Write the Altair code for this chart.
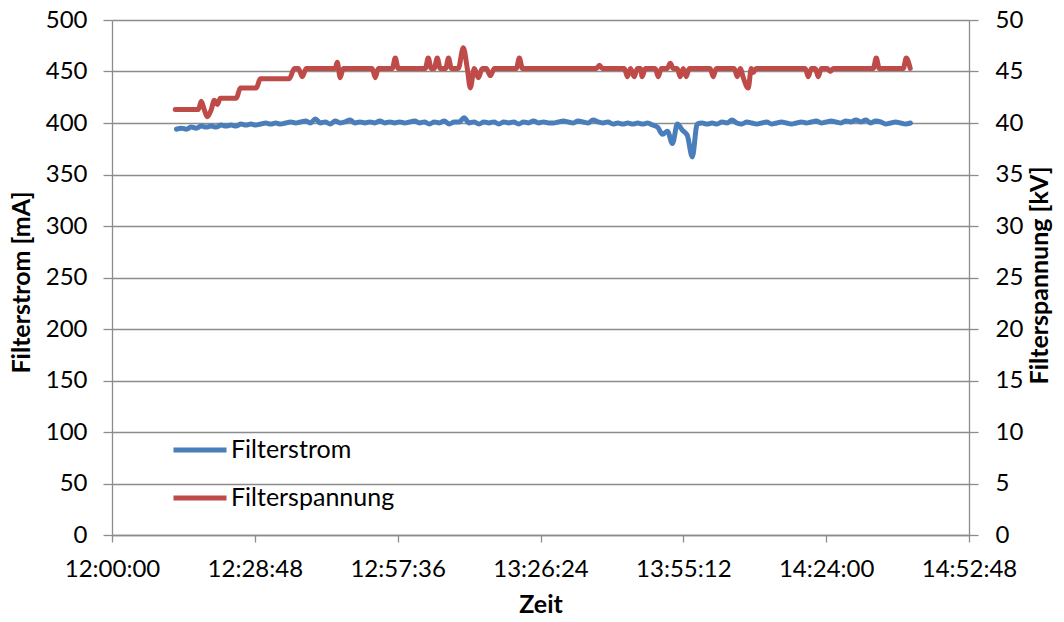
import altair as alt
import pandas as pd

# ---------------- data ----------------
series_names = ["Filterstrom", "Filterspannung"]
series_colors = ["#4a7ebb", "#be4b48"]

# Filterstrom [mA], one sample per minute starting 12:13:00
curr_start = "12:13:00"
curr_step_s = 60
curr_ma = [
    394, 395, 394, 396, 395, 397, 396,
    397, 396, 398, 397, 398, 397, 399, 398, 399, 398,
    399, 400, 399, 400, 399, 400, 401, 400, 401, 402,
    400, 404, 400, 401, 399, 402, 400, 401, 403, 400,
    401, 400, 401, 400, 402, 400, 401, 400, 401, 400,
    401, 402, 400, 401, 399, 401, 400, 402, 399, 401,
    401, 405, 400, 401, 399, 401, 400, 401, 399, 401,
    400, 401, 399, 401, 400, 402, 400, 401, 400, 400,
    401, 402, 401, 400, 402, 401, 400, 403, 401, 400,
    401, 399, 400, 399, 400, 399, 400, 399, 400, 398,
    396, 389, 392, 380, 399, 393, 388, 367, 399,
    400, 399, 400, 399, 401, 400, 403, 400, 399, 401, 400,
    399, 400, 401, 399, 400, 401, 400, 399, 400, 401,
    400, 401, 402, 400, 401, 402, 401, 400, 402, 401,
    403, 401, 403, 400, 402, 401, 399, 400, 401, 400, 399, 400,
]

# Filterspannung [kV], points where the level changes
volt_time = [
    "12:12:45", "12:17:24", "12:18:00", "12:18:36", "12:19:13", "12:20:01",
    "12:20:37", "12:21:14", "12:21:50", "12:25:04", "12:25:52", "12:29:06",
    "12:29:54", "12:35:46", "12:36:46", "12:37:34", "12:38:22", "12:39:10",
    "12:45:00", "12:45:25", "12:46:01", "12:46:37", "12:52:28", "12:53:05",
    "12:53:41", "12:56:31", "12:57:07", "12:57:43", "13:03:10", "13:03:46",
    "13:04:22", "13:04:58", "13:05:35", "13:06:11", "13:07:16", "13:07:52",
    "13:08:25", "13:09:49", "13:10:50", "13:11:38", "13:12:15", "13:13:03",
    "13:13:52", "13:14:40", "13:15:29", "13:16:17", "13:17:06", "13:21:32",
    "13:22:08", "13:22:45", "13:37:40", "13:38:17", "13:38:53", "13:43:19",
    "13:43:56", "13:44:32", "13:45:18", "13:45:55", "13:46:31", "13:46:55",
    "13:47:31", "13:49:32", "13:50:09", "13:50:45", "13:51:57", "13:52:34",
    "13:53:10", "13:53:58", "13:54:35", "13:55:11", "13:55:47", "13:56:23",
    "14:00:37", "14:01:13", "14:01:50", "14:05:28", "14:06:04", "14:06:40",
    "14:07:17", "14:08:17", "14:08:54", "14:09:18", "14:09:54", "14:19:47",
    "14:20:24", "14:21:00", "14:21:48", "14:22:25", "14:23:01", "14:24:14",
    "14:24:50", "14:25:26", "14:33:30", "14:34:06", "14:34:42", "14:39:33",
    "14:40:09", "14:40:57",
]
volt_kv = [
    41.3, 41.3, 42.1, 41.3, 40.6, 41.3,
    42.2, 41.8, 42.4, 42.4, 43.4, 43.4,
    44.3, 44.3, 45.3, 45.3, 44.5, 45.3,
    45.3, 45.9, 44.4, 45.3, 45.3, 44.4,
    45.3, 45.3, 46.3, 45.3, 45.3, 46.3,
    45.3, 45.3, 46.3, 45.3, 45.3, 46.3,
    45.3, 45.3, 47.3, 45.3, 43.4, 45.3,
    44.4, 45.3, 45.3, 44.6, 45.3, 45.3,
    46.3, 45.3, 45.3, 45.6, 45.3, 45.3,
    44.5, 45.3, 44.5, 45.3, 45.3, 44.5,
    45.3, 45.3, 44.5, 45.3, 45.3, 45.8,
    45.3, 45.3, 44.5, 45.3, 44.5, 45.3,
    45.3, 44.5, 45.3, 45.3, 44.5, 45.3,
    44.4, 43.4, 45.3, 44.9, 45.3, 45.3,
    44.5, 45.3, 45.3, 44.5, 45.3, 45.3,
    45.0, 45.3, 45.3, 46.3, 45.3, 45.3,
    46.3, 45.3,
]

x_tick_labels = ["12:00:00", "12:28:48", "12:57:36", "13:26:24",
                 "13:55:12", "14:24:00", "14:52:48"]
ma_ticks = [0, 50, 100, 150, 200, 250, 300, 350, 400, 450, 500]
kv_ticks = [0, 5, 10, 15, 20, 25, 30, 35, 40, 45, 50]


def secs(s):
    h, m, sec = (int(p) for p in s.split(":"))
    return (h - 12) * 3600 + m * 60 + sec


t0 = secs(curr_start)
df_c = pd.DataFrame({
    "t": [t0 + i * curr_step_s for i in range(len(curr_ma))],
    "v": curr_ma,
    "series": series_names[0],
})
df_v = pd.DataFrame({
    "t": [secs(s) for s in volt_time],
    "v": volt_kv,
    "series": series_names[1],
})
x_ticks = [secs(s) for s in x_tick_labels]

FONT = "Lato"
GRID = "#8c8c8c"

x_enc = alt.X(
    "t:Q",
    scale=alt.Scale(domain=[x_ticks[0], x_ticks[-1]], nice=False, zero=False),
    axis=alt.Axis(
        values=x_ticks,
        labelExpr="timeFormat(datetime(2000, 0, 1, 12, 0, datum.value), '%H:%M:%S')",
        labelFlush=False, labelOverlap=False,
        title="Zeit", grid=False, tickSize=7, labelPadding=15,
        titleY=77, titleBaseline="alphabetic",
    ),
)

color_enc = alt.Color(
    "series:N",
    scale=alt.Scale(domain=series_names, range=series_colors),
    legend=alt.Legend(
        title=None, orient="none", legendX=59, legendY=401,
        symbolType="stroke", symbolSize=2809, symbolStrokeWidth=5,
        rowPadding=6, labelOffset=2, padding=0,
        labelFont=FONT, labelFontSize=25, labelColor="#000000", labelLimit=400,
    ),
)

curr = alt.Chart(df_c).mark_line(
    strokeWidth=5, interpolate="monotone", strokeCap="round", strokeJoin="round"
).encode(
    x=x_enc,
    y=alt.Y(
        "v:Q",
        scale=alt.Scale(domain=[0, 500], nice=False),
        axis=alt.Axis(
            orient="left", values=ma_ticks, grid=True, title="Filterstrom [mA]",
            tickSize=9, labelPadding=16,
            titleAngle=270, titleBaseline="bottom", titleX=-78, titleY=262,
        ),
    ),
    color=color_enc,
)

volt = alt.Chart(df_v).mark_line(
    strokeWidth=5, interpolate="monotone", strokeCap="round", strokeJoin="round"
).encode(
    x=x_enc,
    y=alt.Y(
        "v:Q",
        scale=alt.Scale(domain=[0, 50], nice=False),
        axis=alt.Axis(
            orient="right", values=kv_ticks, grid=False, title="Filterspannung [kV]",
            tickSize=9, labelPadding=17,
            titleAngle=270, titleBaseline="top", titleX=58, titleY=255,
        ),
    ),
    color=color_enc,
)

chart = (
    alt.layer(curr, volt)
    .resolve_scale(y="independent")
    .properties(
        width=857, height=515,
        autosize=alt.AutoSizeParams(type="none"),
        padding={"left": 104, "top": 12, "right": 87, "bottom": 79},
    )
    .configure_view(stroke=None)
    .configure_axis(
        labelFont=FONT, titleFont=FONT, labelFontSize=24, titleFontSize=25,
        titleFontWeight="bold", labelColor="#000000", titleColor="#000000",
        domainColor=GRID, tickColor=GRID, gridColor=GRID,
        domainWidth=1.3, tickWidth=1.3, gridWidth=1.3,
    )
)

chart.save("out.html", embed_options={"renderer": "svg", "actions": False})
